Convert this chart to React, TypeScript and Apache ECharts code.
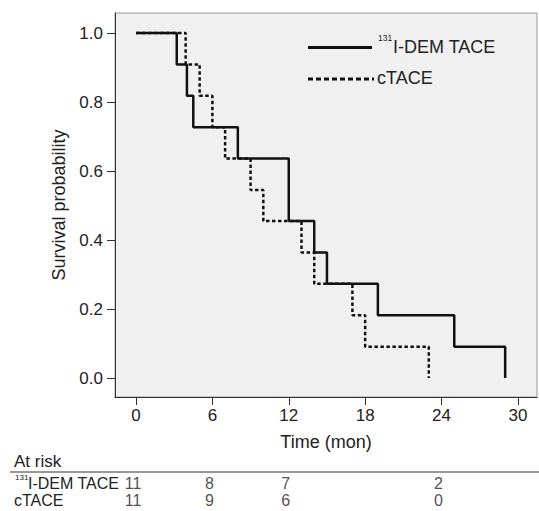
import { useEffect, useRef } from 'react';
import * as echarts from 'echarts';

// ---- data ----
const xTicks = [0, 6, 12, 18, 24, 30];
const yTicks = [0, 0.2, 0.4, 0.6, 0.8, 1.0];

const timeI = [0, 3.2, 4.0, 4.5, 8.0, 12.0, 14.0, 15.0, 19.0, 25.0, 29.0];
const survI = [1.0, 0.909, 0.818, 0.727, 0.636, 0.455, 0.364, 0.273, 0.182, 0.091, 0.0];

const timeC = [0, 3.9, 5.0, 6.0, 7.0, 9.0, 10.0, 13.0, 14.0, 17.0, 18.0, 23.0];
const survC = [1.0, 0.909, 0.818, 0.727, 0.636, 0.545, 0.455, 0.364, 0.273, 0.182, 0.091, 0.0];

const riskTimes = [0, 6, 12, 24];
const riskI = [11, 8, 7, 2];
const riskC = [11, 9, 6, 0];
const groupRows = ['I', 'C'];

const FONT = '"Liberation Sans", Arial, Helvetica, sans-serif';
const TXT = '#222';

export default function App() {
  const ref = useRef<HTMLDivElement>(null);
  useEffect(() => {
    if (!ref.current) return;
    const chart = echarts.init(ref.current, undefined, { renderer: 'svg' });
    const xMin = -1.65;
    const xMax = 31.5;
    const dataI = timeI.map((t, i) => [t, survI[i]]);
    const dataC = timeC.map((t, i) => [t, survC[i]]);
    const riskData = [
      ...riskTimes.map((t, i) => [t, groupRows[0], riskI[i]]),
      ...riskTimes.map((t, i) => [t, groupRows[1], riskC[i]]),
    ];
    chart.setOption({
      animation: false,
      backgroundColor: '#fff',
      textStyle: { fontFamily: FONT, color: TXT },
      grid: [
        {
          left: 115, top: 13, width: 422, height: 384,
          show: true, backgroundColor: '#f0f0f0', borderColor: '#9a9a9a', borderWidth: 1,
        },
        { left: 115, top: 474.5, width: 422, height: 34 },
      ],
      xAxis: [
        {
          type: 'value', gridIndex: 0, min: xMin, max: xMax,
          name: 'Time (mon)', nameLocation: 'middle', nameGap: 36,
          nameTextStyle: { fontSize: 18, color: TXT, fontFamily: FONT },
          axisLine: { show: true, onZero: false, lineStyle: { color: '#333', width: 1 } },
          axisTick: { show: true, customValues: xTicks, length: 8, lineStyle: { color: '#333' } },
          axisLabel: { customValues: xTicks, margin: 10, fontSize: 17, color: TXT, fontFamily: FONT },
          splitLine: { show: false },
        },
        { type: 'value', gridIndex: 1, min: xMin, max: xMax, show: false },
      ],
      yAxis: [
        {
          type: 'value', gridIndex: 0, min: -0.055, max: 1.058,
          name: 'Survival probability', nameLocation: 'middle', nameGap: 45,
          nameTextStyle: { fontSize: 18, color: TXT, fontFamily: FONT },
          axisLine: { show: true, onZero: false, lineStyle: { color: '#333', width: 1 } },
          axisTick: { show: true, customValues: yTicks, length: 8, lineStyle: { color: '#333' } },
          axisLabel: {
            customValues: yTicks, margin: 12, fontSize: 17, color: TXT, fontFamily: FONT,
            formatter: (v: number) => v.toFixed(1),
          },
          splitLine: { show: false },
        },
        { type: 'category', gridIndex: 1, data: groupRows, inverse: true, show: false },
      ],
      series: [
        {
          name: 'cTACE', type: 'line', step: 'end', data: dataC, showSymbol: false, symbol: 'none',
          xAxisIndex: 0, yAxisIndex: 0,
          lineStyle: { color: '#111', width: 2.5, type: [3.5, 2.5] },
        },
        {
          name: '131I-DEM TACE', type: 'line', step: 'end', data: dataI, showSymbol: false, symbol: 'none',
          xAxisIndex: 0, yAxisIndex: 0,
          lineStyle: { color: '#111', width: 2.5, type: 'solid' },
        },
        {
          name: 'risk', type: 'scatter', xAxisIndex: 1, yAxisIndex: 1, data: riskData,
          symbolSize: 1, itemStyle: { color: 'transparent' },
          label: {
            show: true, position: 'inside', offset: [-3, 0],
            formatter: (p: any) => String(p.value[2]),
            fontSize: 16, color: TXT, fontFamily: FONT,
          },
        },
      ],
      graphic: [
        { type: 'line', shape: { x1: 308, y1: 47.5, x2: 372, y2: 47.5 }, style: { stroke: '#111', lineWidth: 3 } },
        { type: 'text', x: 378, y: 38, style: { text: '131', fontSize: 8.5, fill: TXT, fontFamily: FONT, verticalAlign: 'middle' } },
        { type: 'text', x: 393, y: 46.5, style: { text: 'I-DEM TACE', fontSize: 18, fill: TXT, fontFamily: FONT, verticalAlign: 'middle' } },
        { type: 'line', shape: { x1: 308, y1: 79, x2: 374, y2: 79 }, style: { stroke: '#111', lineWidth: 3, lineDash: [5, 3] } },
        { type: 'text', x: 377, y: 78, style: { text: 'cTACE', fontSize: 18, fill: TXT, fontFamily: FONT, verticalAlign: 'middle' } },
        { type: 'text', x: 14, y: 461, style: { text: 'At risk', fontSize: 17, fill: TXT, fontFamily: FONT, verticalAlign: 'middle' } },
        { type: 'line', shape: { x1: 10, y1: 472, x2: 539, y2: 472 }, style: { stroke: '#333', lineWidth: 1.2 } },
        { type: 'text', x: 15, y: 477.5, style: { text: '131', fontSize: 8, fill: TXT, fontFamily: FONT, verticalAlign: 'middle' } },
        { type: 'text', x: 28, y: 483, style: { text: 'I-DEM TACE', fontSize: 16, fill: TXT, fontFamily: FONT, verticalAlign: 'middle' } },
        { type: 'text', x: 14, y: 500, style: { text: 'cTACE', fontSize: 16, fill: TXT, fontFamily: FONT, verticalAlign: 'middle' } },
      ],
    });
    return () => chart.dispose();
  }, []);
  return <div ref={ref} style={{ position: 'fixed', left: 0, top: 0, width: 539, height: 511 }} />;
}
